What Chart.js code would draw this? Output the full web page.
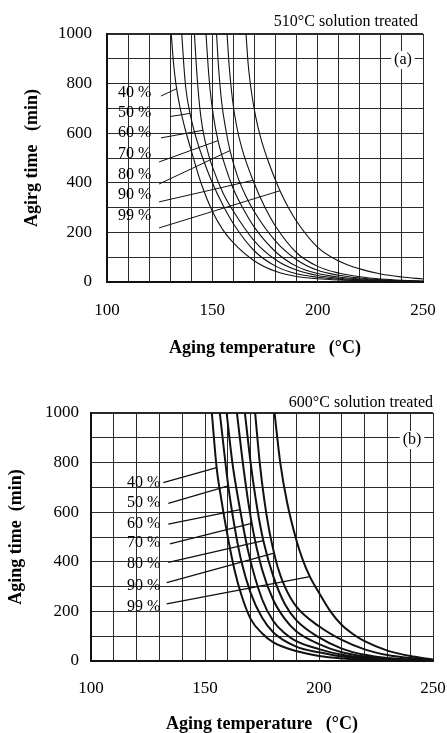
<!DOCTYPE html>
<html><head><meta charset="utf-8">
<script src="https://cdn.jsdelivr.net/npm/chart.js@4.4.0/dist/chart.umd.min.js"></script>
<style>
html,body{margin:0;padding:0;background:#fff;}
#wrapA{position:absolute;left:0;top:0;width:447px;height:366px;}
#wrapB{position:absolute;left:0;top:366px;width:447px;height:367px;}
canvas{display:block;}
</style></head><body>
<div id="wrapA"><canvas id="cA" width="447" height="366"></canvas></div>
<div id="wrapB"><canvas id="cB" width="447" height="367"></canvas></div>
<script>
// ---------- shared ----------
const pctLabels = ['40 %', '50 %', '60 %', '70 %', '80 %', '90 %', '99 %'];
const xTickLabels = [100, 150, 200, 250];
const yTickLabels = [0, 200, 400, 600, 800, 1000];

// ---------- (a) 510°C solution treated : temperature (°C) / time (min) ----------
const a40T = [130.5, 131.5, 132.7, 134.5, 137, 140, 145, 150, 155, 160, 170, 180, 190, 200, 210, 220, 230, 240, 250];
const a40t = [1000, 890, 800, 710, 620, 530, 390, 285, 210, 158, 85, 43, 22, 13, 8, 5, 3, 2, 1];
const a50T = [135.5, 136.5, 137.5, 139.4, 142, 145, 150, 155, 160, 170, 180, 190, 200, 210, 220, 230, 240, 250];
const a50t = [1000, 870, 775, 680, 590, 510, 400, 310, 235, 125, 64, 33, 19, 11, 7, 4, 2, 1];
const a60T = [141.5, 142.5, 143.5, 144.5, 146, 148, 150, 155, 160, 170, 180, 190, 200, 210, 220, 230, 240, 250];
const a60t = [1000, 860, 750, 670, 590, 520, 465, 360, 285, 165, 90, 48, 26, 15, 9, 5, 3, 2];
const a70T = [147, 148, 149, 150.5, 152.7, 156, 160, 165, 170, 180, 190, 200, 210, 220, 230, 240, 250];
const a70t = [1000, 870, 770, 670, 570, 470, 375, 290, 220, 122, 63, 34, 20, 12, 7, 4, 2];
const a80T = [152, 153, 154.5, 156.5, 158.4, 162, 166, 170, 180, 190, 200, 210, 220, 230, 240, 250];
const a80t = [1000, 860, 720, 610, 530, 425, 345, 282, 165, 90, 47, 27, 16, 9, 5, 3];
const a90T = [157, 158, 159.5, 161.5, 164, 169.3, 175, 180, 190, 200, 210, 220, 230, 240, 250];
const a90t = [1000, 870, 740, 630, 540, 410, 300, 225, 118, 63, 36, 21, 12, 7, 4];
const a99T = [166, 167, 168.5, 170.5, 173, 176, 180, 182.1, 185, 190, 200, 210, 220, 230, 240, 250];
const a99t = [1000, 880, 770, 670, 580, 500, 410, 368, 318, 245, 140, 85, 53, 32, 20, 12];
const aLabelT = [105.2, 105.2, 105.2, 105.2, 105.2, 105.2, 105.2];
const aLabelt = [762, 681, 601, 516, 431, 351, 266];
const aLeadStartT = [125.6, 129.9, 125.6, 124.7, 124.7, 124.7, 124.7];
const aLeadStartt = [750, 667, 581, 484, 395, 323, 218];
const aLeadEndT = [133.2, 139.4, 145.6, 152.7, 158.4, 169.3, 182.1];
const aLeadEndt = [780, 680, 612, 570, 530, 410, 368];

// ---------- (b) 600°C solution treated ----------
const b40T = [153, 155.1, 157, 160, 163, 166, 170, 175, 180, 190, 200, 210, 220, 230, 240, 250];
const b40t = [1000, 780, 660, 500, 365, 265, 170, 112, 75, 40, 20, 10, 5, 3, 1, 0];
const b50T = [156.5, 160.2, 163, 166, 170, 175, 180, 190, 200, 210, 220, 230, 240, 250];
const b50t = [1000, 706, 540, 400, 275, 175, 115, 58, 35, 18, 9, 5, 2, 1];
const b60T = [159.5, 162, 165.4, 169, 175, 180, 185, 190, 200, 210, 220, 230, 240, 250];
const b60t = [1000, 800, 610, 440, 250, 160, 112, 80, 48, 25, 13, 7, 3, 1];
const b70T = [164, 167, 170.5, 175, 180, 185, 190, 200, 210, 220, 230, 240, 250];
const b70t = [1000, 770, 555, 370, 245, 170, 120, 68, 35, 18, 9, 4, 2];
const b80T = [167.5, 170, 173, 175.6, 180, 185, 190, 200, 210, 220, 230, 240, 250];
const b80t = [1000, 800, 610, 485, 340, 230, 165, 95, 50, 25, 12, 6, 2];
const b90T = [172, 174, 176, 178, 180.3, 182, 185, 190, 200, 210, 220, 230, 240, 250];
const b90t = [1000, 800, 650, 535, 435, 375, 300, 220, 140, 85, 47, 24, 12, 4];
const b99T = [180.5, 183, 186, 190, 193, 196, 200, 205, 210, 215, 220, 230, 240, 250];
const b99t = [1000, 800, 640, 490, 405, 340, 275, 200, 145, 108, 80, 42, 20, 6];
const bLabelT = [115.8, 115.8, 115.8, 115.8, 115.8, 115.8, 115.8];
const bLabelt = [719, 637, 552, 476, 391, 302, 218];
const bLeadStartT = [131.7, 133.9, 133.9, 134.6, 133.9, 133.2, 133.2];
const bLeadStartt = [719, 636, 552, 472, 398, 316, 230];
const bLeadEndT = [155.1, 160.2, 165.4, 170.5, 175.6, 180.3, 196];
const bLeadEndt = [780, 706, 610, 555, 485, 435, 340];

const FONT = '"Liberation Serif", "Times New Roman", serif';

const annotPlugin = {
  id: 'annot',
  afterDatasetsDraw(chart, args, o) {
    const {ctx, chartArea, scales: {x, y}} = chart;
    ctx.save();
    ctx.fillStyle = '#000';
    ctx.font = '16px ' + FONT;
    ctx.textBaseline = 'middle';
    ctx.textAlign = 'left';
    o.labels.forEach((txt, i) => {
      ctx.fillText(txt, x.getPixelForValue(o.labelT[i]), y.getPixelForValue(o.labelt[i]));
    });
    // panel tag
    ctx.textAlign = 'center';
    const tx = x.getPixelForValue(o.tagT), ty = y.getPixelForValue(o.tagt);
    const tw = ctx.measureText(o.tag).width;
    ctx.fillStyle = '#fff';
    ctx.fillRect(tx - tw / 2 - 3, ty - 9, tw + 6, 18);
    ctx.fillStyle = '#000';
    ctx.fillText(o.tag, tx, ty);
    // caption
    ctx.textAlign = 'right';
    ctx.fillText(o.caption, chartArea.right + o.capDx, chartArea.top + o.capDy);
    ctx.restore();
  }
};

function series(Ts, ts) { return Ts.map((v, j) => ({x: v, y: ts[j]})); }

function build(id, p) {
  const datasets = [];
  p.curves.forEach(c => datasets.push({
    data: series(c[0], c[1]), borderColor: '#111', borderWidth: p.curveW,
    pointRadius: 0, cubicInterpolationMode: 'monotone', fill: false
  }));
  p.leadST.forEach((v, i) => datasets.push({
    data: [{x: v, y: p.leadSt[i]}, {x: p.leadET[i], y: p.leadEt[i]}],
    borderColor: '#111', borderWidth: p.leadW, pointRadius: 0, fill: false
  }));
  const gridW = ctx => (ctx.tick && (ctx.tick.value === 0 || ctx.tick.value === 1000)) ? 2 : 1;
  return new Chart(document.getElementById(id), {
    type: 'line',
    data: {datasets},
    plugins: [annotPlugin],
    options: {
      responsive: false, animation: false, parsing: true,
      layout: {padding: {left: 0, right: p.padR, top: p.padT, bottom: 0}},
      plugins: {
        legend: {display: false}, tooltip: {enabled: false}, title: {display: false},
        annot: {labels: pctLabels, labelT: p.labelT, labelt: p.labelt, tag: p.tag, tagT: p.tagT, tagt: p.tagt,
                caption: p.caption, capDx: p.capDx, capDy: p.capDy}
      },
      scales: {
        x: {
          type: 'linear', min: 100, max: 250,
          afterFit: s => { s.height = p.xH; s.paddingLeft = 0; s.paddingRight = 0; },
          ticks: {stepSize: 10, autoSkip: false, maxRotation: 0, padding: p.xTickPad, color: '#000',
                  font: {family: FONT, size: 17},
                  callback: v => xTickLabels.includes(v) ? String(v) : ''},
          grid: {color: '#2a2a2a', lineWidth: 1, drawTicks: false},
          border: {display: true, color: '#111', width: 2},
          title: {display: true, text: 'Aging temperature   (°C)', color: '#000',
                  font: {family: FONT, size: 18, weight: 'bold', lineHeight: 1.2}, padding: {top: 0, bottom: p.xTitlePad}}
        },
        y: {
          type: 'linear', min: 0, max: 1000,
          afterFit: s => { s.width = p.yW; s.paddingTop = 0; s.paddingBottom = 0; },
          ticks: {stepSize: 100, autoSkip: false, padding: p.yTickPad, color: '#000',
                  font: {family: FONT, size: 17},
                  callback: v => yTickLabels.includes(v) ? String(v) : ''},
          grid: {color: '#2a2a2a', lineWidth: gridW, drawTicks: false},
          border: {display: true, color: '#111', width: 2},
          title: {display: true, text: p.yTitle, color: '#000',
                  font: {family: FONT, size: 18, weight: 'bold', lineHeight: 1.2}, padding: {top: p.yTitlePad, bottom: 0}}
        }
      }
    }
  });
}

build('cA', {
  curves: [[a40T, a40t], [a50T, a50t], [a60T, a60t], [a70T, a70t], [a80T, a80t], [a90T, a90t], [a99T, a99t]],
  leadST: aLeadStartT, leadSt: aLeadStartt, leadET: aLeadEndT, leadEt: aLeadEndt,
  labelT: aLabelT, labelt: aLabelt, tag: '(a)', tagT: 240.5, tagt: 895,
  caption: '510°C solution treated', capDx: -5, capDy: -12,
  curveW: 1.1, leadW: 1,
  padR: 24, padT: 34, xH: 84, yW: 107, xTickPad: 18, yTickPad: 15, xTitlePad: 7, yTitlePad: 22,
  yTitle: 'Agirg time   (min)'
});
build('cB', {
  curves: [[b40T, b40t], [b50T, b50t], [b60T, b60t], [b70T, b70t], [b80T, b80t], [b90T, b90t], [b99T, b99t]],
  leadST: bLeadStartT, leadSt: bLeadStartt, leadET: bLeadEndT, leadEt: bLeadEndt,
  labelT: bLabelT, labelt: bLabelt, tag: '(b)', tagT: 240.8, tagt: 891,
  caption: '600°C solution treated', capDx: 0, capDy: -10,
  curveW: 2, leadW: 1.3,
  padR: 14, padT: 47, xH: 72, yW: 91, xTickPad: 17, yTickPad: 12, xTitlePad: -2, yTitlePad: 6,
  yTitle: 'Aging time  (min)'
});
</script>
</body></html>
